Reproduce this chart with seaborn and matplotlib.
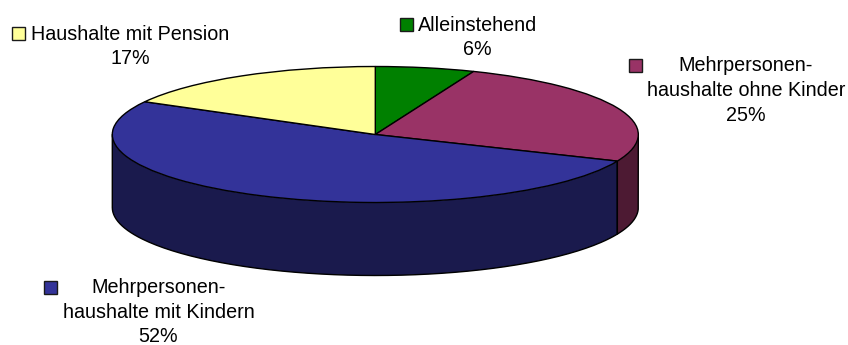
import numpy as np
import matplotlib
matplotlib.use("Agg")
import matplotlib.pyplot as plt
from matplotlib.patches import Rectangle
import seaborn as sns

categories = ["Alleinstehend", "Mehrpersonen-\nhaushalte ohne Kinder", "Mehrpersonen-\nhaushalte mit Kindern", "Haushalte mit Pension"]
shares = [6.1, 25.3, 51.6, 17.0]
top_colors = ["#008000", "#993366", "#333399", "#FFFF99"]
side_colors = ["#004000", "#4D1A33", "#1A1A4D", "#808050"]

W, H = 848, 345
CX, CY, RX, RY, DEPTH = 375.3, 134.5, 263, 68, 73

sns.set_theme(style="white")
plt.rcParams["font.family"] = ["Liberation Sans", "DejaVu Sans"]

fig = plt.figure(figsize=(W / 100, H / 100), dpi=100, facecolor="white")
ax = fig.add_axes([0, 0, 1, 1])
ax.pie(shares, colors=top_colors, startangle=90, counterclock=False, radius=1,
       wedgeprops=dict(edgecolor="black", linewidth=1.0, zorder=3))
ax.set_aspect("auto")
ax.set_xlim((0 - CX) / RX, (W - CX) / RX)
ax.set_ylim((CY - H) / RY, (CY - 0) / RY)
ax.axis("off")

d = DEPTH / RY
edges = np.cumsum([0] + shares) / sum(shares) * 2 * np.pi
for i in range(len(shares)):
    a0, a1 = edges[i], edges[i + 1]
    # visible wall: front half of the rim (clockwise angle from the top in 90..270 deg)
    lo, hi = max(a0, np.pi / 2), min(a1, 3 * np.pi / 2)
    if hi <= lo:
        continue
    t = np.linspace(lo, hi, 160)
    x, y = np.sin(t), np.cos(t)
    ax.fill_between(x, y, y - d, color=side_colors[i], edgecolor="none", zorder=1)
    ax.plot(np.r_[x[0], x, x[-1]], np.r_[y[0], y - d, y[-1]], color="black", lw=1.0,
            zorder=2, solid_joinstyle="round", solid_capstyle="round")


def px(x, y):
    return (x - CX) / RX, (CY - y) / RY


labels = [
    (477.5, 37.5, 406.5, 24.5),
    (746, 90.5, 635, 65.5),
    (158.5, 312, 50.5, 287.5),
    (130.5, 46.5, 19, 33),
]
for i, (tx, ty, kx, ky) in enumerate(labels):
    lx, ly = px(tx, ty)
    s = f"{categories[i]}\n{shares[i]:.0f}%"
    ax.text(lx, ly, s, ha="center", va="center", fontsize=14.2, color="black",
            linespacing=1.39, zorder=5)
    x0, y0 = px(kx - 6.5, ky + 6.5)
    ax.add_patch(Rectangle((x0, y0), 13 / RX, 13 / RY, facecolor=top_colors[i],
                           edgecolor="#1a1a1a", linewidth=1.0, zorder=5))

fig.savefig("out.png", dpi=100, facecolor="white")
